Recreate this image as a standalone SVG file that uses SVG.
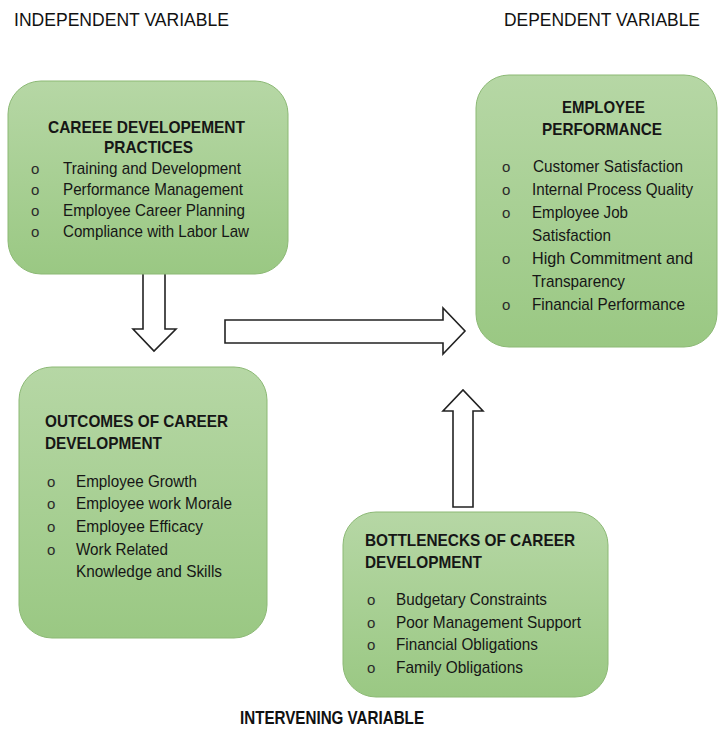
<svg xmlns="http://www.w3.org/2000/svg" width="718" height="729" viewBox="0 0 718 729">
<defs>
<linearGradient id="g" x1="0" y1="0" x2="0" y2="1">
<stop offset="0" stop-color="#b6d7a5"/>
<stop offset="1" stop-color="#9ac883"/>
</linearGradient>
<style>
.box{fill:url(#g);stroke:#8cb975;stroke-width:1}
.t{font-family:"Liberation Sans",Arial,sans-serif;font-size:17px;fill:#161616}
.b{font-weight:bold}
.bul{font-family:"Liberation Sans",Arial,sans-serif;font-size:15px;fill:#2a2a2a}
.hd{font-family:"Liberation Sans",Arial,sans-serif;font-size:18.5px;fill:#111}
.arrow{fill:#fff;stroke:#222;stroke-width:1.6;stroke-linejoin:miter}
</style>
</defs>
<rect width="718" height="729" fill="#fff"/>
<g id="headers">
<text class="hd" x="14" y="26" textLength="215" lengthAdjust="spacingAndGlyphs">INDEPENDENT VARIABLE</text>
<text class="hd" x="504" y="26" textLength="196" lengthAdjust="spacingAndGlyphs">DEPENDENT VARIABLE</text>
<text class="hd b" x="240" y="724" textLength="184" lengthAdjust="spacingAndGlyphs">INTERVENING VARIABLE</text>
</g>
<g id="connectors">
<polygon class="arrow" points="143,258 165,258 165,329 176,329 154,351 133,329 143,329"/>
<polygon class="arrow" points="225,320 443,320 443,308 465,331 443,354 443,343 225,343"/>
<polygon class="arrow" points="453,507 453,411 443,411 463,390 483,411 473,411 473,507"/>
</g>
<g id="practices">
<rect class="box" x="8" y="81" width="280" height="193" rx="33" ry="33"/>
<text class="t b" x="48" y="133" textLength="197" lengthAdjust="spacingAndGlyphs">CAREEE DEVELOPEMENT</text>
<text class="t b" x="104" y="153" textLength="89" lengthAdjust="spacingAndGlyphs">PRACTICES</text>
<text class="bul" x="31" y="174">o</text>
<text class="t" x="63" y="174" textLength="178" lengthAdjust="spacingAndGlyphs">Training and Development</text>
<text class="bul" x="31" y="195">o</text>
<text class="t" x="63" y="195" textLength="180" lengthAdjust="spacingAndGlyphs">Performance Management</text>
<text class="bul" x="31" y="216">o</text>
<text class="t" x="63" y="216" textLength="182" lengthAdjust="spacingAndGlyphs">Employee Career Planning</text>
<text class="bul" x="31" y="237">o</text>
<text class="t" x="63" y="237" textLength="186" lengthAdjust="spacingAndGlyphs">Compliance with Labor Law</text>
</g>
<g id="performance">
<rect class="box" x="476" y="75" width="241" height="272" rx="33" ry="33"/>
<text class="t b" x="562" y="113" textLength="83" lengthAdjust="spacingAndGlyphs">EMPLOYEE</text>
<text class="t b" x="542" y="135" textLength="120" lengthAdjust="spacingAndGlyphs">PERFORMANCE</text>
<text class="bul" x="502" y="172">o</text>
<text class="t" x="533" y="172" textLength="150" lengthAdjust="spacingAndGlyphs">Customer Satisfaction</text>
<text class="bul" x="502" y="195">o</text>
<text class="t" x="532" y="195" textLength="161" lengthAdjust="spacingAndGlyphs">Internal Process Quality</text>
<text class="bul" x="502" y="218">o</text>
<text class="t" x="532" y="218" textLength="96" lengthAdjust="spacingAndGlyphs">Employee Job</text>
<text class="t" x="532" y="241" textLength="79" lengthAdjust="spacingAndGlyphs">Satisfaction</text>
<text class="bul" x="502" y="264">o</text>
<text class="t" x="532" y="264" textLength="161" lengthAdjust="spacingAndGlyphs">High Commitment and</text>
<text class="t" x="532" y="287" textLength="93" lengthAdjust="spacingAndGlyphs">Transparency</text>
<text class="bul" x="502" y="310">o</text>
<text class="t" x="532" y="310" textLength="153" lengthAdjust="spacingAndGlyphs">Financial Performance</text>
</g>
<g id="outcomes">
<rect class="box" x="19" y="367" width="248" height="271" rx="33" ry="33"/>
<text class="t b" x="45" y="427" textLength="183" lengthAdjust="spacingAndGlyphs">OUTCOMES OF CAREER</text>
<text class="t b" x="45" y="449" textLength="117" lengthAdjust="spacingAndGlyphs">DEVELOPMENT</text>
<text class="bul" x="47" y="487">o</text>
<text class="t" x="76" y="487" textLength="121" lengthAdjust="spacingAndGlyphs">Employee Growth</text>
<text class="bul" x="47" y="509">o</text>
<text class="t" x="76" y="509" textLength="156" lengthAdjust="spacingAndGlyphs">Employee work Morale</text>
<text class="bul" x="47" y="532">o</text>
<text class="t" x="76" y="532" textLength="127" lengthAdjust="spacingAndGlyphs">Employee Efficacy</text>
<text class="bul" x="47" y="555">o</text>
<text class="t" x="76" y="555" textLength="92" lengthAdjust="spacingAndGlyphs">Work Related</text>
<text class="t" x="76" y="577" textLength="146" lengthAdjust="spacingAndGlyphs">Knowledge and Skills</text>
</g>
<g id="bottlenecks">
<rect class="box" x="343" y="512" width="265" height="185" rx="33" ry="33"/>
<text class="t b" x="365" y="546" textLength="210" lengthAdjust="spacingAndGlyphs">BOTTLENECKS OF CAREER</text>
<text class="t b" x="365" y="568" textLength="117" lengthAdjust="spacingAndGlyphs">DEVELOPMENT</text>
<text class="bul" x="367" y="605">o</text>
<text class="t" x="396" y="605" textLength="151" lengthAdjust="spacingAndGlyphs">Budgetary Constraints</text>
<text class="bul" x="367" y="628">o</text>
<text class="t" x="396" y="628" textLength="185" lengthAdjust="spacingAndGlyphs">Poor Management Support</text>
<text class="bul" x="367" y="650">o</text>
<text class="t" x="396" y="650" textLength="142" lengthAdjust="spacingAndGlyphs">Financial Obligations</text>
<text class="bul" x="367" y="673">o</text>
<text class="t" x="396" y="673" textLength="127" lengthAdjust="spacingAndGlyphs">Family Obligations</text>
</g>
</svg>
